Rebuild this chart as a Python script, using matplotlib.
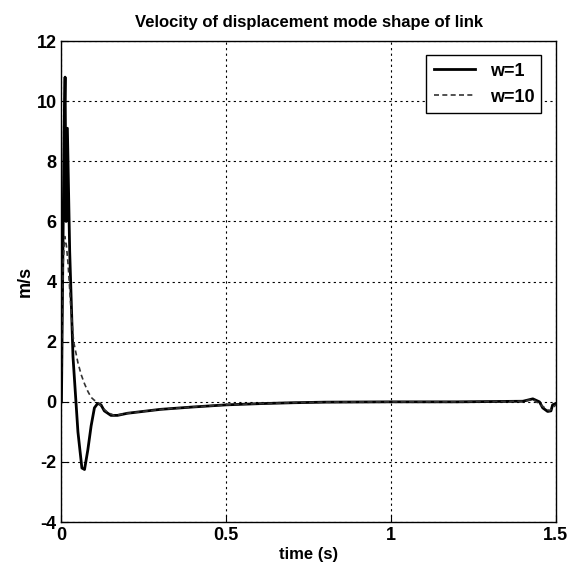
import matplotlib
matplotlib.use("Agg")
import matplotlib.pyplot as plt

plt.rcParams['font.family'] = ['Liberation Sans', 'DejaVu Sans']
plt.rcParams['font.weight'] = 'bold'
plt.rcParams['axes.unicode_minus'] = False

# w=1 (solid)
t1 = [0, 0.004, 0.008, 0.011, 0.014, 0.018, 0.025, 0.035, 0.05, 0.062, 0.07, 0.08,
      0.09, 0.1, 0.11, 0.12, 0.13, 0.15, 0.17, 0.2, 0.3, 0.4, 0.5, 0.6, 0.7, 0.8,
      1.0, 1.2, 1.4, 1.43, 1.45, 1.46, 1.475, 1.485, 1.49, 1.5]
v1 = [0, 4.5, 9.0, 10.8, 6.0, 9.1, 5.0, 1.5, -1.0, -2.2, -2.25, -1.6,
      -0.8, -0.2, -0.05, -0.1, -0.3, -0.45, -0.45, -0.38, -0.25, -0.17, -0.1, -0.06, -0.03, -0.01,
      0.0, 0.0, 0.02, 0.1, 0.0, -0.2, -0.32, -0.3, -0.1, -0.05]

# w=10 (dashed)
t10 = [0, 0.005, 0.01, 0.015, 0.02, 0.03, 0.037, 0.05, 0.06, 0.07, 0.08, 0.09, 0.1,
       0.11, 0.12, 0.14, 0.16, 0.18, 0.2, 0.3, 0.4, 0.5, 0.6, 0.7, 0.8,
       1.0, 1.2, 1.4, 1.43, 1.46, 1.48, 1.49, 1.5]
v10 = [1.0, 4.6, 5.5, 5.2, 4.6, 2.9, 2.0, 1.3, 0.9, 0.6, 0.35, 0.15, 0.05,
       0.0, -0.15, -0.35, -0.45, -0.42, -0.38, -0.25, -0.17, -0.1, -0.06, -0.03, -0.01,
       0.0, 0.0, 0.02, 0.08, -0.15, -0.3, -0.2, -0.1]

fig = plt.figure(figsize=(5.69, 5.70), dpi=100)
ax = fig.add_axes([0.108, 0.084, 0.869, 0.844])

ax.plot(t1, v1, color='black', lw=2, label='w=1')
ax.plot(t10, v10, color='#333333', lw=1.2, ls=(0, (3, 2)), label='w=10')

ax.set_xlim(0, 1.5)
ax.set_ylim(-4, 12)
ax.set_xticks([0, 0.5, 1, 1.5])
ax.set_xticklabels(['0', '0.5', '1', '1.5'])
ax.set_yticks(range(-4, 13, 2))
ax.grid(True, color='black', ls=(0, (2, 3)), lw=0.8)
ax.tick_params(direction='in', labelsize=13, length=5)
for s in ax.spines.values():
    s.set_linewidth(1)

ax.set_title('Velocity of displacement mode shape of link', fontsize=12, fontweight='bold', pad=10)
ax.set_xlabel('time (s)', fontsize=12, fontweight='bold', labelpad=2)
ax.set_ylabel('m/s', fontsize=13, fontweight='bold', labelpad=2)

leg = ax.legend(loc='upper right', fontsize=13, fancybox=False, framealpha=1,
                edgecolor='black', handlelength=2.3, borderaxespad=0.8)
leg.get_frame().set_linewidth(1)

fig.savefig('out.png', dpi=100)
